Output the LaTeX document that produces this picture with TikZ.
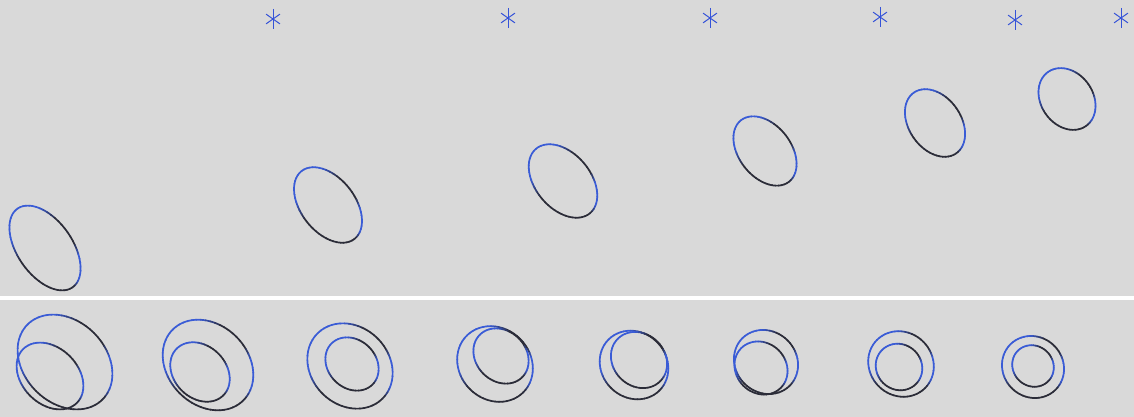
\documentclass[tikz,border=0pt]{standalone}
\usepackage{tikz}
\usetikzlibrary{calc}
\definecolor{bggray}{HTML}{D9D9D9}
\definecolor{eblue}{HTML}{3A5CD6}
\definecolor{edark}{HTML}{2B2C38}
\definecolor{starblue}{HTML}{3553D8}
\tikzset{
  seg/.style={line width=1.7pt, line cap=round},
  starline/.style={starblue, line width=1pt},
}
% #1 cx, #2 cy, #3 a, #4 b, #5 theta (image coords, y down)
\newcommand\myell[5]{%
  \foreach \t in {0,6,...,354} {%
    \pgfmathsetmacro\wa{min(1,max(0,(78-abs(\t+3-172))/28))}%
    \pgfmathsetmacro\wb{min(1,max(0,(36-abs(\t+3-322))/16))}%
    \pgfmathtruncatemacro\w{100*max(\wa,\wb)}%
    \draw[seg, color=eblue!\w!edark] plot[domain=\t:\t+6.5, samples=4, smooth]
      ({#1 + #3*cos(\x)*cos(#5) - #4*sin(\x)*sin(#5)},
       {#2 + #3*cos(\x)*sin(#5) + #4*sin(\x)*cos(#5)});
  }%
}
\newcommand\starmark[2]{%
  \draw[starline] (#1,#2-10) -- (#1,#2+10);
  \draw[starline] ($(#1,#2)+(-145:8.5)$) -- ($(#1,#2)+(35:8.5)$);
  \draw[starline] ($(#1,#2)+(145:8.5)$) -- ($(#1,#2)+(-35:8.5)$);
}
\begin{document}
\begin{tikzpicture}[x=1pt,y=-1pt]
\useasboundingbox (0,0) rectangle (1134,417);
\fill[bggray] (0,0) rectangle (1134,417);
\fill[white] (0,296) rectangle (1134,300);
% top row ellipses
\myell{45}{248}{48}{27.5}{55}
\myell{328}{205}{43}{27}{52}
\myell{563}{181}{42}{27.5}{50}
\myell{765}{151}{39}{26}{52}
\myell{935}{123}{37}{26}{55}
\myell{1067}{99}{33}{26}{55}
% asterisks
\starmark{273}{19}
\starmark{508}{18}
\starmark{710}{18}
\starmark{880}{17}
\starmark{1015}{20}
\starmark{1121}{18}
% bottom row pairs
\myell{65}{362}{53}{41}{45}
\myell{50}{376}{38}{28}{45}
\myell{208}{365}{50}{40}{45}
\myell{200}{372}{33}{26}{45}
\myell{350}{366}{46}{39}{45}
\myell{352}{364}{29}{24}{45}
\myell{495}{364}{40}{35.5}{45}
\myell{501}{356}{30}{25}{45}
\myell{634}{365}{36}{32.5}{45}
\myell{639}{360}{30}{26}{45}
\myell{766}{362}{33.5}{30.5}{45}
\myell{761}{368}{28}{25}{45}
\myell{901}{364}{34}{31.5}{45}
\myell{899}{367}{24}{22.5}{45}
\myell{1033}{367}{32}{30}{45}
\myell{1033}{366}{21.5}{20}{45}
\end{tikzpicture}
\end{document}
